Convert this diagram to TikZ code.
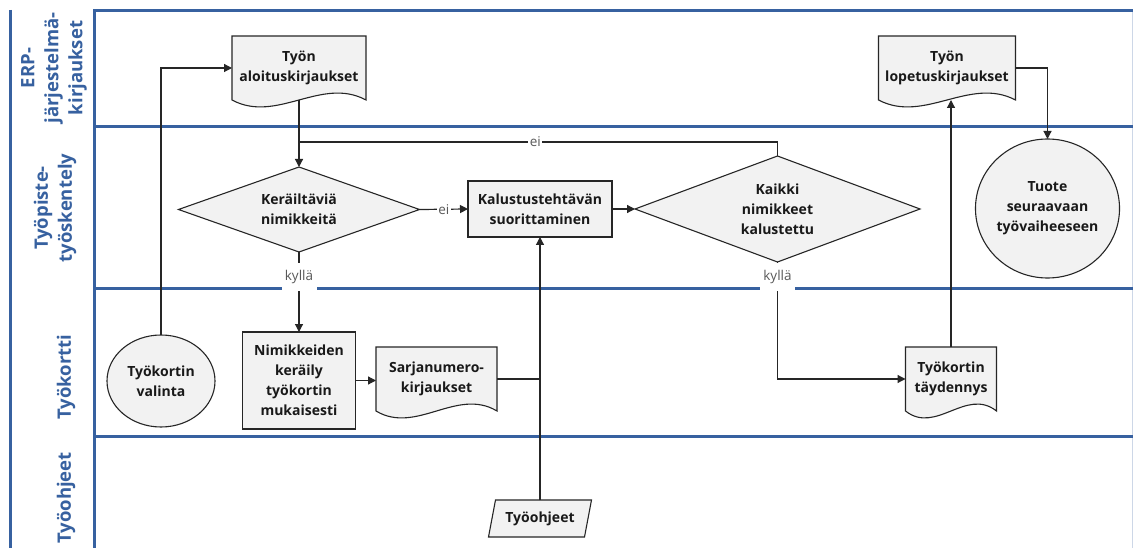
\documentclass[tikz,border=0pt]{standalone}
\usepackage{fontspec}
\setmainfont{Open Sans}
\usetikzlibrary{arrows.meta,calc,shapes.geometric}

\pgfdeclarelayer{lanes}
\pgfdeclarelayer{outlines}
\pgfsetlayers{lanes,outlines,main}

\definecolor{laneblue}{HTML}{3761A0}
\definecolor{shapefill}{HTML}{F2F2F2}
\definecolor{flowline}{HTML}{262626}
\definecolor{labelgray}{HTML}{595959}

\tikzset{
  lane/.style={draw=laneblue, line width=3pt},
  lanetitle/.style={text=laneblue, font=\fontsize{18.5}{24}\selectfont\bfseries,
    align=center, rotate=90, inner sep=0pt},
  shapeborder/.style={draw=black!85, fill=shapefill, line width=1.1pt},
  txt/.style={font=\fontsize{14}{20}\selectfont\bfseries, align=center, text=black!90},
  process/.style={txt, rectangle, shapeborder, inner sep=2pt, outer sep=0pt},
  terminal/.style={txt, ellipse, shapeborder, inner sep=0pt, outer sep=0pt},
  holder/.style={txt, rectangle, draw=none, inner sep=0pt, outer sep=0pt},
  flow/.style={draw=flowline, line width=1.2pt, -{Triangle[length=8pt,width=8pt]}},
  plain/.style={draw=flowline, line width=1.2pt},
  answer/.style={fill=white, text=labelgray, font=\fontsize{13.5}{15}\selectfont, inner sep=1.5pt},
  answerwide/.style={answer, minimum width=35pt, minimum height=28pt},
}

% document symbol: straight top and sides, wavy bottom edge
\newcommand\docoutline[1]{%
  \draw[shapeborder] (#1.south west) -- (#1.north west) -- (#1.north east) -- (#1.south east)
    .. controls ($(#1.south east)!1/3!(#1.south west)+(0,-24)$)
           and ($(#1.south east)!2/3!(#1.south west)+(0,24)$) .. (#1.south west) -- cycle;}
% decision symbol through the four side midpoints
\newcommand\decisionoutline[1]{%
  \draw[shapeborder] (#1.north) -- (#1.east) -- (#1.south) -- (#1.west) -- cycle;}
% data symbol: slanted sides
\newcommand\dataoutline[1]{%
  \draw[shapeborder] ([xshift=3.5pt]#1.north west) -- ([xshift=3.5pt]#1.north east)
    -- ([xshift=-3.5pt]#1.south east) -- ([xshift=-3.5pt]#1.south west) -- cycle;}

\begin{document}
\begin{tikzpicture}[x=1pt,y=-1pt]
\useasboundingbox (0,0) rectangle (1133,548);

% swimlanes
\begin{pgfonlayer}{lanes}
  \begin{scope}
    \clip (0,0) rectangle (1133,548);
    \fill[white] (0,0) rectangle (1133,548);
    \draw[draw=laneblue!25, line width=1pt] (1132,11) -- (1132,560);
    \draw[lane] (10,10) -- (10,560);
    \draw[lane] (94,560) -- (94,11) -- (1140,11);
    \draw[lane] (94,127) -- (1140,127);
    \draw[lane] (94,289) -- (1140,289);
    \draw[lane] (94,436) -- (1140,436);
  \end{scope}
\end{pgfonlayer}

\node[lanetitle] (tERP) at (54,68) {ERP-\\järjestelmä-\\kirjaukset};
\node[lanetitle] (tWS)  at (55,208) {Työpiste-\\työskentely};
\node[lanetitle] (tWC)  at (66,377) {Työkortti};
\node[lanetitle] (tWI)  at (66,498) {Työohjeet};

% symbols
\node[holder, minimum width=134pt, minimum height=64pt] (aloit) at (299,68) {Työn\\aloituskirjaukset};
\node[holder, minimum width=137pt, minimum height=64pt] (lop) at (947,68) {Työn\\lopetuskirjaukset};
\node[holder, minimum width=241pt, minimum height=85pt] (d1) at (299,209.5) {Keräiltäviä\\nimikkeitä};
\node[process, minimum width=144pt, minimum height=56pt] (kal) at (540,209) {Kalustustehtävän\\suorittaminen};
\node[holder, minimum width=285pt, minimum height=106pt] (d2) at (777.5,209) {Kaikki\\nimikkeet\\kalustettu};
\node[terminal, minimum width=131pt, minimum height=139pt] (tuote) at (1047.5,208.5) {Tuote\\seuraavaan\\työvaiheeseen};
\node[terminal, minimum width=108pt, minimum height=92pt] (valinta) at (161,381) {Työkortin\\valinta};
\node[process, minimum width=113pt, minimum height=97pt] (nim) at (299,380.5) {Nimikkeiden\\keräily\\työkortin\\mukaisesti};
\node[holder, minimum width=121pt, minimum height=64pt] (sarja) at (436.5,379) {Sarjanumero-\\kirjaukset};
\node[holder, minimum width=91pt, minimum height=64pt] (tayd) at (951,379) {Työkortin\\täydennys};
\node[holder, minimum width=96pt, minimum height=37pt] (ohj) at (540,518.5) {Työohjeet};

\begin{pgfonlayer}{outlines}
  \docoutline{aloit}
  \docoutline{lop}
  \docoutline{sarja}
  \docoutline{tayd}
  \decisionoutline{d1}
  \decisionoutline{d2}
  \dataoutline{ohj}
\end{pgfonlayer}

% connectors
\coordinate (join) at (aloit.south |- 0,142);
\coordinate (mrg) at (sarja.east -| kal.south);

\draw[flow] (valinta.north) |- (aloit.west);
\draw[flow] (aloit.south) -- (d1.north);
\draw[plain] (d2.north) |- node[answer, pos=0.753] (eiTop) {ei} (join);
\draw[flow] (d1.east) -- node[answer] (eiMid) {ei} (kal.west);
\draw[flow] (kal.east) -- (d2.west);
\draw[flow] (d1.south) -- node[answerwide, pos=0.31] (kyl1) {kyllä} (nim.north);
\draw[flow] (d2.south) |- node[answerwide, pos=0.065] (kyl2) {kyllä} (tayd.west);
\draw[flow] (nim.east) -- (nim.east -| sarja.west);
\draw[plain] (sarja.east) -- (mrg);
\draw[flow] (ohj.north) -- (kal.south);
\draw[flow] (tayd.north) -- (tayd.north |- lop.south);
\draw[flow] (lop.east) -| (tuote.north);
\end{tikzpicture}
\end{document}
